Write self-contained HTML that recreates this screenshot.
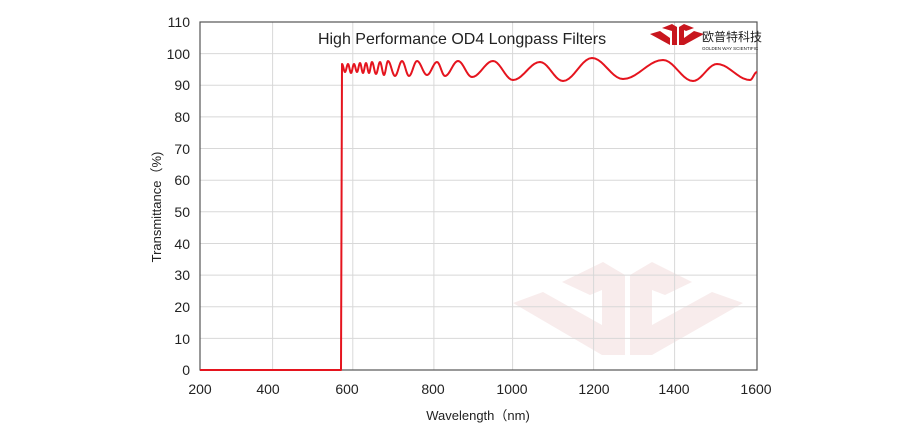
<!DOCTYPE html>
<html><head><meta charset="utf-8"><style>
body{margin:0;background:#fff}
svg text{font-family:"Liberation Sans","Noto Sans CJK SC",sans-serif;fill:#222}
</style></head><body>
<svg width="924" height="440" viewBox="0 0 924 440" xmlns="http://www.w3.org/2000/svg">
<g fill="#f8ecec">
<polygon points="513,303 543,292 602,325 602,355"/>
<polygon points="562,282 603,262 625,275 625,355 602,355 602,290 590,295"/>
<polygon points="630,275 652,262 692,282 665,295 652,290 652,355 630,355"/>
<polygon points="652,325 712,292 743,303 652,355"/>
</g>
<g stroke="#d8d8d8" stroke-width="1">
<line x1="200" x2="757" y1="53.6" y2="53.6"/><line x1="200" x2="757" y1="85.3" y2="85.3"/>
<line x1="200" x2="757" y1="116.9" y2="116.9"/><line x1="200" x2="757" y1="148.5" y2="148.5"/>
<line x1="200" x2="757" y1="180.2" y2="180.2"/><line x1="200" x2="757" y1="211.8" y2="211.8"/>
<line x1="200" x2="757" y1="243.5" y2="243.5"/><line x1="200" x2="757" y1="275.1" y2="275.1"/>
<line x1="200" x2="757" y1="306.7" y2="306.7"/><line x1="200" x2="757" y1="338.4" y2="338.4"/>
<line y1="22" y2="370" x1="272.6" x2="272.6"/><line y1="22" y2="370" x1="352.8" x2="352.8"/>
<line y1="22" y2="370" x1="433.9" x2="433.9"/><line y1="22" y2="370" x1="512.6" x2="512.6"/>
<line y1="22" y2="370" x1="593.6" x2="593.6"/><line y1="22" y2="370" x1="674.6" x2="674.6"/>
</g>
<rect x="200" y="22" width="557" height="348" fill="none" stroke="#555" stroke-width="1.2"/>
<path id="curve" fill="none" stroke="#e5141e" stroke-width="2" stroke-linejoin="round"/>
<g font-size="14" text-anchor="end">
<text x="190" y="27">110</text><text x="190" y="59">100</text><text x="190" y="90">90</text>
<text x="190" y="122">80</text><text x="190" y="154">70</text><text x="190" y="185">60</text>
<text x="190" y="217">50</text><text x="190" y="249">40</text><text x="190" y="280">30</text>
<text x="190" y="312">20</text><text x="190" y="344">10</text><text x="190" y="375">0</text>
</g>
<g font-size="14" text-anchor="middle">
<text x="200" y="394">200</text><text x="268" y="394">400</text><text x="347" y="394">600</text>
<text x="433" y="394">800</text><text x="512" y="394">1000</text><text x="594" y="394">1200</text>
<text x="674" y="394">1400</text><text x="756" y="394">1600</text>
</g>
<text x="478" y="420" font-size="13" text-anchor="middle">Wavelength（nm)</text>
<text transform="translate(161,207) rotate(-90)" font-size="13" text-anchor="middle">Transmittance（%)</text>
<text x="462" y="44" font-size="16" text-anchor="middle">High Performance OD4 Longpass  Filters</text>
<g fill="#c8161e">
<polygon points="650,34 660,31 670,38 670,45"/>
<polygon points="662,28 672,24 677,27 677,45 672,45 672,31"/>
<polygon points="679,27 684,24 694,28 686,31 684,30 684,45 679,45"/>
<polygon points="684,38 694,31 704,34 684,45"/>
</g>
<text x="702" y="41" font-size="12" fill="#333">欧普特科技</text>
<text x="702" y="50" font-size="4.5" fill="#333">GOLDEN WAY SCIENTIFIC</text>
</svg>
<script>
var p=[[342,64],[345,72],[348,64],[351,73],[354,64],[357,72],[360,63],[363,73],[366,63],[369,73],[372,62],[376,74],[380,62],[384,75],[388,61],[395,76],[402,61],[409,76],[417,61],[427,75],[437,62],[445,76],[458,61],[472,77],[493,61],[513,80],[540,62],[563,81],[592,58],[623,79],[663,60],[693,81],[717,64],[750,80],[757,72]];
var d="M200,370 L341,370 L342,64";
for(var i=1;i<p.length;i++){var a=p[i-1],b=p[i];for(var k=1;k<=10;k++){var t=k/10,x=a[0]+(b[0]-a[0])*t,y=a[1]+(b[1]-a[1])*(1-Math.cos(Math.PI*t))/2;d+=" L"+x.toFixed(2)+","+y.toFixed(2);}}
document.getElementById("curve").setAttribute("d",d);
</script>
</body></html>
